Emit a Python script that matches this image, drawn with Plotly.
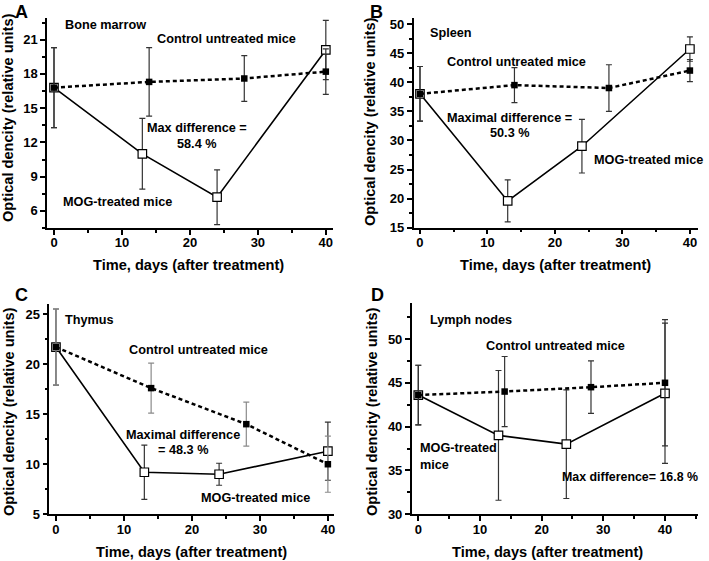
import plotly.graph_objects as go

# ---------------- data ----------------
days_control = [0, 14, 28, 40]
days_mog = [0, 13, 24, 40]

bm_control = [16.8, 17.3, 17.6, 18.2]
bm_control_err = [3.5, 3.0, 2.0, 2.0]
bm_mog = [16.8, 11.0, 7.2, 20.1]
bm_mog_err = [3.5, 3.1, 2.4, 2.6]

sp_control = [38.0, 39.5, 39.0, 42.0]
sp_control_err = [4.7, 3.0, 4.0, 1.9]
sp_mog = [38.0, 19.6, 29.0, 45.7]
sp_mog_err = [4.7, 3.6, 4.6, 2.1]

th_control = [21.7, 17.6, 14.0, 10.0]
th_control_err = [3.8, 2.5, 2.2, 2.8]
th_mog = [21.7, 9.2, 9.0, 11.3]
th_mog_err = [3.8, 2.7, 1.1, 2.9]

ln_control = [43.6, 44.0, 44.5, 45.0]
ln_control_err = [3.4, 4.0, 3.0, 7.2]
ln_mog = [43.6, 39.0, 38.0, 43.8]
ln_mog_err = [3.4, 7.4, 6.2, 8.0]

x_tick_labels = ["0", "10", "20", "30", "40"]

W, H = 709, 561
FONT = "Liberation Sans, Arial, sans-serif"

panels = [
    ("", bm_control, bm_control_err, bm_mog, bm_mog_err, "#333333", "#333333"),
    ("2", sp_control, sp_control_err, sp_mog, sp_mog_err, "#333333", "#333333"),
    ("3", th_control, th_control_err, th_mog, th_mog_err, "#8a8a8a", "#333333"),
    ("4", ln_control, ln_control_err, ln_mog, ln_mog_err, "#333333", "#333333"),
]

fig = go.Figure()
for key, c, ce, m, me, cc, mc in panels:
    xa, ya = "x" + key, "y" + key
    fig.add_trace(go.Scatter(
        x=days_mog, y=m, xaxis=xa, yaxis=ya, mode="lines+markers",
        line=dict(color="black", width=1.6),
        marker=dict(symbol="square", size=8.5, color="white",
                    line=dict(color="black", width=1.2)),
        error_y=dict(type="data", array=me, color=mc, thickness=1.2, width=3),
        showlegend=False, cliponaxis=False))
    fig.add_trace(go.Scatter(
        x=days_control, y=c, xaxis=xa, yaxis=ya, mode="lines+markers",
        line=dict(color="black", width=2.5, dash="4px,3px"),
        marker=dict(symbol="square", size=6.5, color="black"),
        error_y=dict(type="data", array=ce, color=cc, thickness=1.2, width=3),
        showlegend=False, cliponaxis=False))

def px_x(p):
    return p / W

def px_y(p):
    return 1 - p / H

axis_common = dict(
    showline=True, linecolor="black", linewidth=1.5, showgrid=False, automargin=False,
    zeroline=False, ticks="outside", ticklen=5, tickwidth=1.5, tickcolor="black",
    tickfont=dict(family=FONT, size=13, color="black", weight="bold"),
)
x_extra = dict(tickvals=[0, 10, 20, 30, 40], ticktext=x_tick_labels, ticklabelstandoff=-3,
               minor=dict(dtick=5, tick0=0, ticks="outside", ticklen=3, tickcolor="black"))

def minor_y(d):
    return dict(dtick=d, tick0=0, ticks="outside", ticklen=3, tickcolor="black")

layout_axes = {
    "xaxis": dict(domain=[px_x(47), px_x(333.3)], range=[-1.03, 41.1], anchor="y", **x_extra),
    "yaxis": dict(domain=[px_y(228), px_y(18)], range=[4.5, 22.9], anchor="x",
                  tick0=6, dtick=3, minor=minor_y(1.5)),
    "xaxis2": dict(domain=[px_x(413.5), px_x(698)], range=[-0.96, 41.2], anchor="y2", **x_extra),
    "yaxis2": dict(domain=[px_y(227.7), px_y(18)], range=[15, 51.03], anchor="x2",
                   tick0=15, dtick=5, minor=minor_y(2.5)),
    "xaxis3": dict(domain=[px_x(49.3), px_x(334)], range=[-0.98, 40.9], anchor="y3", **x_extra),
    "yaxis3": dict(domain=[px_y(514.3), px_y(304)], range=[5, 26], anchor="x3",
                   tick0=5, dtick=5, minor=minor_y(2.5)),
    "xaxis4": dict(domain=[px_x(411.7), px_x(698.3)], range=[-1.07, 45.4], anchor="y4", **x_extra),
    "yaxis4": dict(domain=[px_y(514.3), px_y(303)], range=[30, 54.1], anchor="x4",
                   tick0=30, dtick=5, minor=minor_y(2.5)),
}
for k, v in layout_axes.items():
    d = dict(axis_common)
    d.update(v)
    layout_axes[k] = d

annotations = []

def data_text(text, x, y, key, xanchor="center", size=12.7):
    annotations.append(dict(
        text=text, x=x, y=y, xref="x" + key, yref="y" + key,
        xanchor=xanchor, yanchor="middle", showarrow=False,
        align=xanchor if xanchor != "center" else "center",
        font=dict(family=FONT, size=size, color="black")))

def paper_text(text, px, py, size=14.6, angle=0, xanchor="center", yanchor="middle"):
    annotations.append(dict(
        text=text, x=px / W, y=1 - py / H, xref="paper", yref="paper",
        xanchor=xanchor, yanchor=yanchor, showarrow=False, textangle=angle,
        font=dict(family=FONT, size=size, color="black")))

# panel A texts
data_text("<b>Bone marrow</b>", 1.3, 22.3, "", xanchor="left")
data_text("<b>Control untreated mice</b>", 25.4, 21.05, "")
data_text("<b>Max difference =</b>", 21.0, 13.3, "")
data_text("<b>58.4 %</b>", 21.0, 11.9, "")
data_text("<b>MOG-treated mice</b>", 9.4, 6.75, "")
# panel B texts
data_text("<b>Spleen</b>", 1.2, 48.5, "2", xanchor="left")
data_text("<b>Control untreated mice</b>", 14.3, 43.5, "2")
data_text("<b>Maximal difference =</b>", 13.3, 33.85, "2")
data_text("<b>50.3 %</b>", 13.3, 31.3, "2")
data_text("<b>MOG-treated mice</b>", 25.5, 26.7, "2", xanchor="left")
# panel C texts
data_text("<b>Thymus</b>", 1.1, 24.4, "3", xanchor="left")
data_text("<b>Control untreated mice</b>", 21.0, 21.4, "3")
data_text("<b>Maximal difference</b>", 18.7, 12.9, "3")
data_text("<b>= 48.3 %</b>", 18.7, 11.4, "3")
data_text("<b>MOG-treated mice</b>", 29.3, 6.6, "3")
# panel D texts
data_text("<b>Lymph nodes</b>", 1.5, 52.2, "4", xanchor="left")
data_text("<b>Control untreated mice</b>", 22.2, 49.2, "4")
data_text("<b>MOG-treated<br>mice</b>", 0.0, 36.65, "4", xanchor="left")
data_text("<b>Max difference= 16.8 %</b>", 23.0, 34.3, "4", xanchor="left", size=12.4)

# panel letters
paper_text("<b>A</b>", 13, 0, size=18, xanchor="left", yanchor="top")
paper_text("<b>B</b>", 368, 0, size=18, xanchor="left", yanchor="top")
paper_text("<b>C</b>", 13, 283, size=18, xanchor="left", yanchor="top")
paper_text("<b>D</b>", 369, 283, size=18, xanchor="left", yanchor="top")

# axis titles
xt = "<b>Time, days (after treatment)</b>"
yt = "<b>Optical dencity (relative units)</b>"
paper_text(xt, 189, 265)
paper_text(xt, 555, 265)
paper_text(xt, 191, 551.5)
paper_text(xt, 547, 551.5)
paper_text(yt, 8, 118, angle=-90)
paper_text(yt, 370, 122, angle=-90)
paper_text(yt, 9, 412, angle=-90)
paper_text(yt, 372, 412, angle=-90)

fig.update_layout(
    width=W, height=H, margin=dict(l=0, r=0, t=0, b=0, pad=0, autoexpand=False),
    paper_bgcolor="white", plot_bgcolor="white",
    font=dict(family=FONT, color="black"),
    annotations=annotations, showlegend=False,
    **layout_axes)

fig.write_html(
    "out.html",
    config={"displayModeBar": False},
    post_script="document.body.style.margin='0';document.body.style.overflow='hidden';",
)
